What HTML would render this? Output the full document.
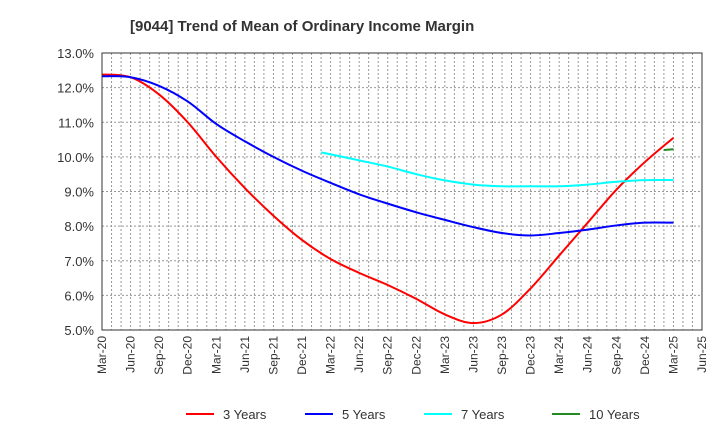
<!DOCTYPE html>
<html><head><meta charset="utf-8"><style>
body{margin:0;background:#fff;font-family:"Liberation Sans",sans-serif;}
</style></head><body>
<svg id="c" width="720" height="440" xmlns="http://www.w3.org/2000/svg">
<text x="130" y="31" font-size="15" font-weight="bold" fill="#333">[9044]  Trend of Mean of Ordinary Income Margin</text>
<g id="grid"></g><g id="series"></g><g id="axes"></g><g id="legend"></g>
</svg>
<script>
const xLabels=["Mar-20","Jun-20","Sep-20","Dec-20","Mar-21","Jun-21","Sep-21","Dec-21","Mar-22","Jun-22","Sep-22","Dec-22","Mar-23","Jun-23","Sep-23","Dec-23","Mar-24","Jun-24","Sep-24","Dec-24","Mar-25","Jun-25"];
const yTicks=[5,6,7,8,9,10,11,12,13];
const q3=[0,1,2,3,4,5,6,7,8,9,10,11,12,13,14,15,16,17,18,19,20];
const s3=[12.38,12.3,11.8,11.0,10.0,9.1,8.3,7.6,7.05,6.65,6.3,5.9,5.45,5.2,5.45,6.2,7.15,8.1,9.05,9.85,10.55];
const q5=[0,1,2,3,4,5,6,7,8,9,10,11,12,13,14,15,16,17,18,19,20];
const s5=[12.33,12.3,12.05,11.6,10.95,10.45,10.0,9.6,9.25,8.92,8.65,8.4,8.18,7.97,7.8,7.73,7.8,7.9,8.02,8.1,8.1];
const q7=[7.67,9,10,11,12,13,14,15,16,17,18,19,20];
const s7=[10.13,9.9,9.72,9.5,9.32,9.2,9.15,9.15,9.15,9.2,9.28,9.33,9.33];
const q10=[19.67,20];
const s10=[10.2,10.22];
const names=["3 Years","5 Years","7 Years","10 Years"];
const colors=["#ff0000","#0000ff","#00ffff","#228b22"];
const NS="http://www.w3.org/2000/svg";
const L=102,R=702,T=53,B=330;
const X=q=>L+q*(R-L)/21, Y=v=>B-(v-5)*(B-T)/8;
function mk(t,a,p){const e=document.createElementNS(NS,t);for(const k in a)e.setAttribute(k,a[k]);p.appendChild(e);return e;}
const g=document.getElementById('grid'),ax=document.getElementById('axes');
for(let m=1;m<63;m++){const x=L+m*(R-L)/63;const l=mk('line',{x1:x,x2:x,y1:T,y2:B,stroke:'#999','stroke-dasharray':'2,2','stroke-width':1},g);

}
yTicks.forEach(v=>{const l=mk('line',{x1:L,x2:R,y1:Y(v),y2:Y(v),stroke:'#999','stroke-dasharray':'2,2','stroke-width':1},g);


const t=mk('text',{x:L-8,y:Y(v)+5,'text-anchor':'end','font-size':13,fill:'#333'},ax);t.textContent=v.toFixed(1)+'%';

});
const fr=mk('rect',{x:L,y:T,width:R-L,height:B-T,fill:'none',stroke:'#333','stroke-width':1},ax);


xLabels.forEach((s,i)=>{const x=X(i);const t=mk('text',{x:0,y:0,transform:`translate(${x+4},${B+6}) rotate(-90)`,'text-anchor':'end','font-size':12,fill:'#333'},ax);t.textContent=s;

});
const sg=document.getElementById('series');
[[q3,s3],[q5,s5],[q7,s7],[q10,s10]].forEach(([qs,arr],si)=>{const pts=arr.map((v,i)=>[X(qs[i]),Y(v)]);
let d='M'+pts[0][0]+','+pts[0][1];
for(let i=0;i<pts.length-1;i++){const p0=pts[i-1]||pts[i],p1=pts[i],p2=pts[i+1],p3=pts[i+2]||p2;
d+=` C${p1[0]+(p2[0]-p0[0])/6},${p1[1]+(p2[1]-p0[1])/6} ${p2[0]-(p3[0]-p1[0])/6},${p2[1]-(p3[1]-p1[1])/6} ${p2[0]},${p2[1]}`;}
const p=mk('path',{d:d,fill:'none',stroke:colors[si],'stroke-width':2},sg);

});
const lg=document.getElementById('legend');const lx=[186,305,424,552];
names.forEach((n,i)=>{const l=mk('line',{x1:lx[i],x2:lx[i]+28,y1:414,y2:414,stroke:colors[i],'stroke-width':2},lg);


const t=mk('text',{x:lx[i]+37,y:419,'font-size':13,fill:'#333'},lg);t.textContent=n;

});
</script>
</body></html>
